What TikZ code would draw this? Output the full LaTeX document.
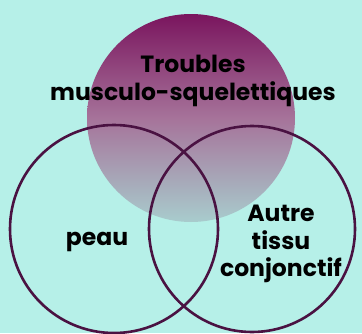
\documentclass[tikz,border=0pt]{standalone}
\usepackage{fontspec}
\setmainfont{Poppins}
\usepackage{tikz}
\definecolor{fond}{HTML}{B6F0E8}
\definecolor{prune}{HTML}{7A155E}
\definecolor{mauve}{HTML}{A6739A}
\definecolor{gris}{HTML}{A8CCCD}
\definecolor{trait}{HTML}{4A1242}
\tikzset{
    cercle/.style={draw=trait, line width=2.6pt},
    etiq/.style={font=\bfseries\fontsize{23.5}{27.5}\selectfont, text=black, align=center, inner sep=0pt}
}

\begin{document}
\begin{tikzpicture}[x=1pt,y=-1pt]
    \coordinate (O) at (0, 0);
    \coordinate (E) at (362, 333);
    \coordinate (T) at (191, 118);
    \coordinate (P) at (114, 229);
    \coordinate (A) at (252, 229);

    \fill[fond] (O) rectangle (E);
    \useasboundingbox (O) rectangle (E);

    % cercle du haut, en degrade
    \shade[top color=prune, bottom color=gris, middle color=mauve, shading angle=0]
        (T) circle (104);

    \draw[cercle] (P) circle (104);
    \draw[cercle] (A) circle (103);

%labels
    \node[etiq] (tms) at (193, 81) {Troubles\\musculo-squelettiques};
    \node[etiq] (peau) at (97, 242) {peau};
    \node[etiq] (autre) at (281, 244) {Autre\\tissu\\conjonctif};

\end{tikzpicture}
\end{document}
